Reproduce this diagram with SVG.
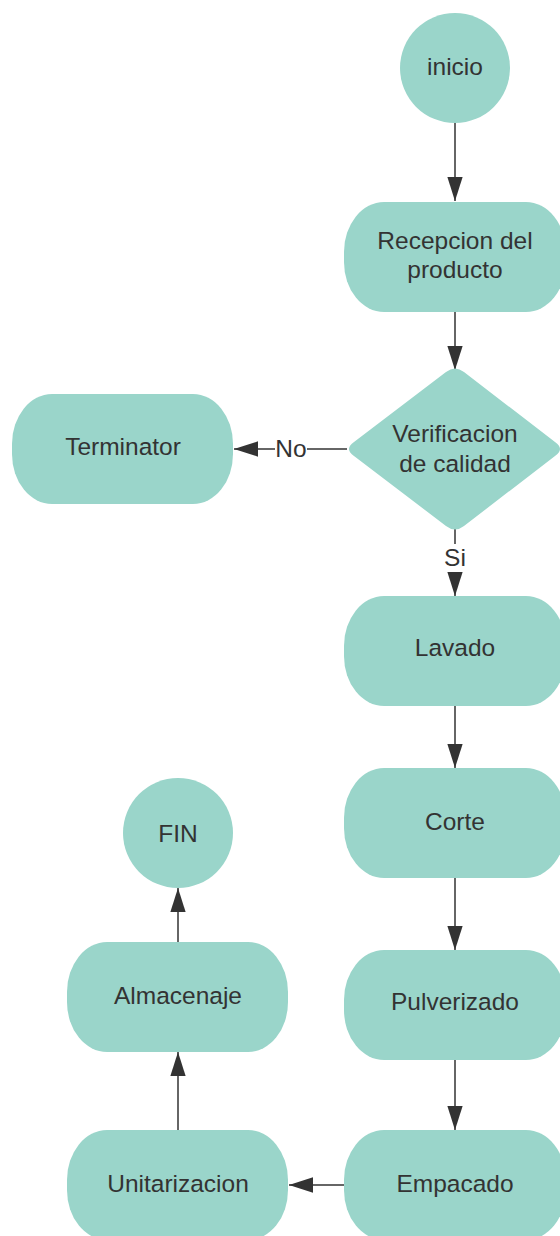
<svg xmlns="http://www.w3.org/2000/svg" width="560" height="1236" viewBox="0 0 560 1236">
<defs>
<style>
.n{fill:#9AD5CA;stroke:none}
.t{font-family:"Liberation Sans",Arial,sans-serif;font-size:24.5px;fill:#333333;text-anchor:middle}
.c{stroke:#333333;stroke-width:1.5;fill:none;marker-end:url(#ah)}
.lb{fill:#ffffff}
</style>
<marker id="ah" markerUnits="userSpaceOnUse" markerWidth="24" markerHeight="16" viewBox="0 0 22 14" refX="22" refY="7" orient="auto">
<path d="M0,0 L22,7 L0,14 Z" fill="#333333"/>
</marker>
</defs>
<rect width="560" height="1236" fill="#ffffff"/>
<g id="connectors">
<line class="c" x1="455" y1="123" x2="455" y2="201"/>
<line class="c" x1="455" y1="312" x2="455" y2="370"/>
<line class="c" x1="347" y1="449" x2="234" y2="449"/>
<rect class="lb" x="275" y="436" width="32" height="26"/>
<text class="t" x="291" y="457">No</text>
<line class="c" x1="455" y1="528" x2="455" y2="596"/>
<rect class="lb" x="442" y="544" width="26" height="28"/>
<text class="t" x="455" y="566">Si</text>
<line class="c" x1="455" y1="706" x2="455" y2="768"/>
<line class="c" x1="455" y1="878" x2="455" y2="950"/>
<line class="c" x1="455" y1="1060" x2="455" y2="1130"/>
<line class="c" x1="345" y1="1185" x2="289" y2="1185"/>
<line class="c" x1="178" y1="1130" x2="178" y2="1052"/>
<line class="c" x1="178" y1="942" x2="178" y2="888"/>
</g>
<g id="inicio"><circle class="n" cx="455" cy="68" r="55"/><text class="t" x="455" y="75">inicio</text></g>
<g id="recepcion"><rect class="n" x="344" y="202" width="222" height="110" rx="40" ry="50"/><text class="t" x="455" y="249">Recepcion del</text><text class="t" x="455" y="278">producto</text></g>
<g id="verificacion"><path class="n" d="M446,372 Q455,365 464,372 L555,442 Q565,449 555,456 L464,526 Q455,533 446,526 L354,456 Q344,449 354,442 Z"/><text class="t" x="455" y="442">Verificacion</text><text class="t" x="455" y="472">de calidad</text></g>
<g id="terminator"><rect class="n" x="12" y="394" width="221" height="110" rx="40" ry="50"/><text class="t" x="123" y="455">Terminator</text></g>
<g id="lavado"><rect class="n" x="344" y="596" width="222" height="110" rx="40" ry="50"/><text class="t" x="455" y="656">Lavado</text></g>
<g id="corte"><rect class="n" x="344" y="768" width="222" height="110" rx="40" ry="50"/><text class="t" x="455" y="830">Corte</text></g>
<g id="pulverizado"><rect class="n" x="344" y="950" width="222" height="110" rx="40" ry="50"/><text class="t" x="455" y="1010">Pulverizado</text></g>
<g id="empacado"><rect class="n" x="344" y="1130" width="222" height="110" rx="40" ry="50"/><text class="t" x="455" y="1192">Empacado</text></g>
<g id="unitarizacion"><rect class="n" x="67" y="1130" width="221" height="110" rx="40" ry="50"/><text class="t" x="178" y="1192">Unitarizacion</text></g>
<g id="almacenaje"><rect class="n" x="67" y="942" width="221" height="110" rx="40" ry="50"/><text class="t" x="178" y="1004">Almacenaje</text></g>
<g id="fin"><circle class="n" cx="178" cy="833" r="55"/><text class="t" x="178" y="842">FIN</text></g>
</svg>
